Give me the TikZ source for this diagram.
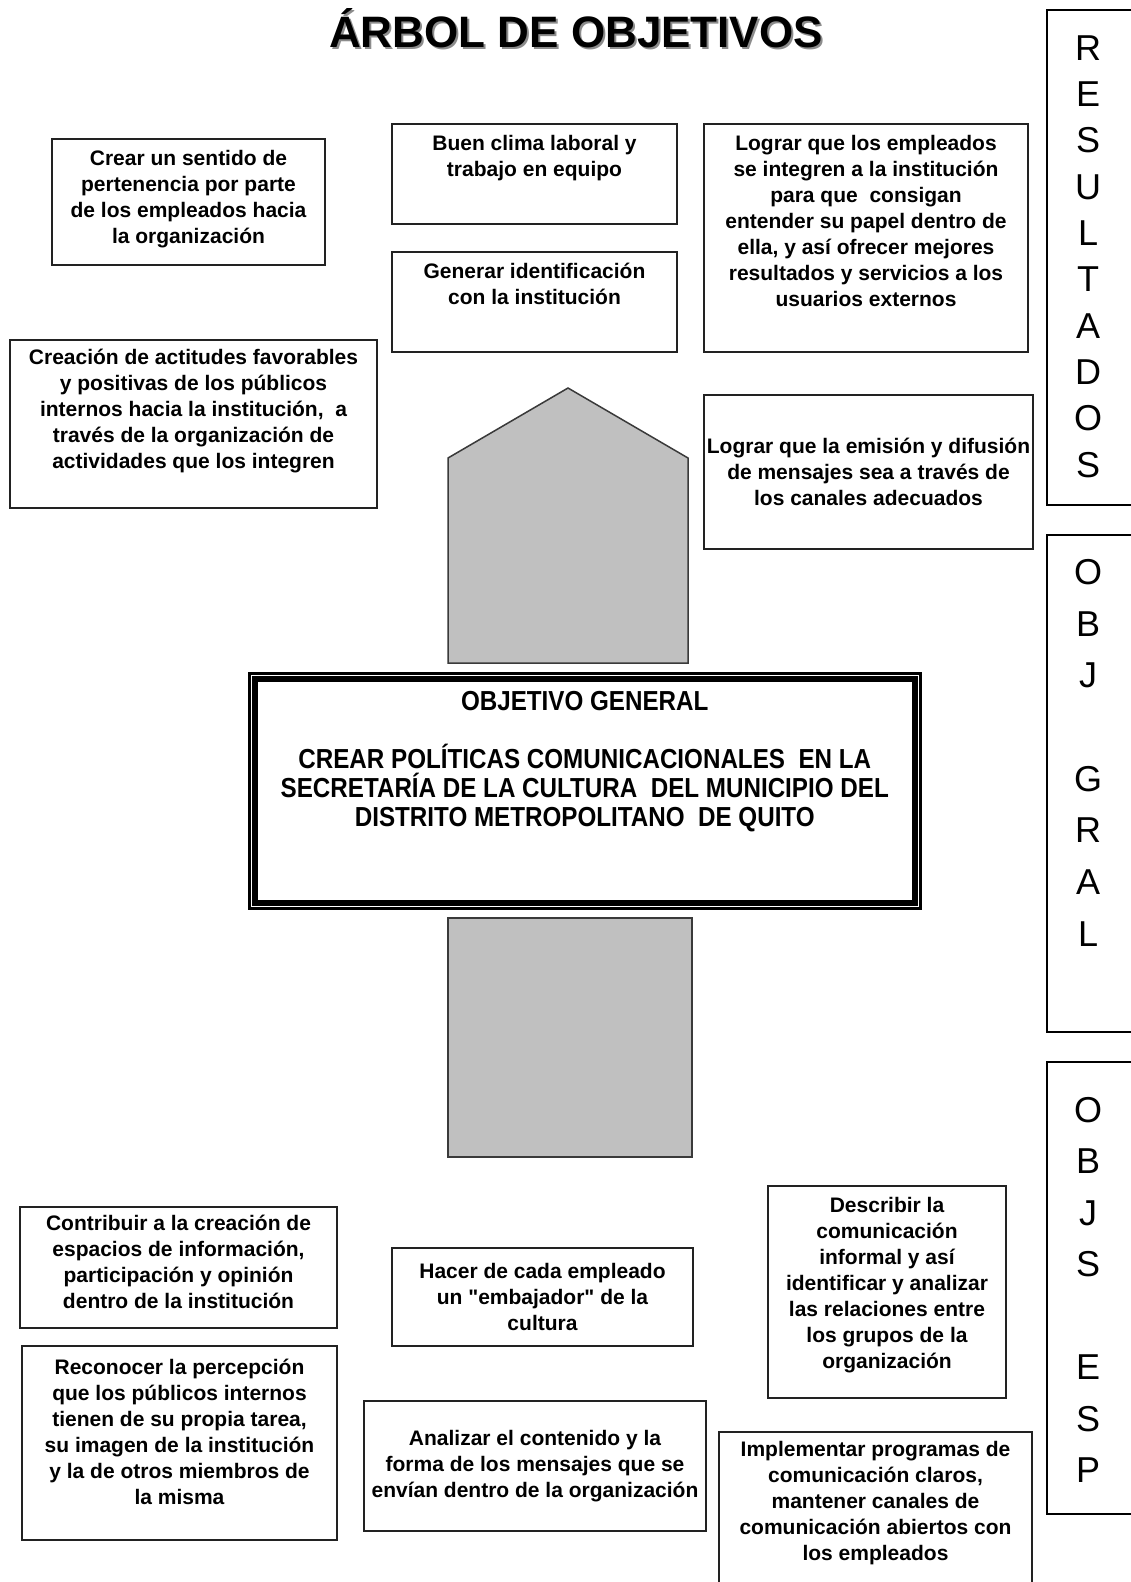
\documentclass[tikz,border=0pt]{standalone}
\usepackage{fontspec}
\setmainfont{Liberation Sans}
\newfontfamily\gralfont[FakeStretch=0.88]{Liberation Sans}
\usetikzlibrary{positioning}

\definecolor{boxline}{HTML}{222222}
\definecolor{shaft}{HTML}{C0C0C0}
\definecolor{shaftline}{HTML}{3A3A3A}

\begin{document}
\begin{tikzpicture}[x=1pt,y=-1pt,
node distance = 12pt,
objbox/.style  = {draw=boxline, line width=2pt, anchor=north west, inner sep=0pt,
                  align=center, font=\bfseries\fontsize{21}{26}\selectfont},
objtext/.style = {inner sep=0pt, align=center, font=\bfseries\fontsize{21}{26}\selectfont},
graltext/.style= {inner sep=0pt, align=center, font=\gralfont\bfseries\fontsize{27.5}{29}\selectfont},
shaftbody/.style = {fill=shaft, draw=shaftline, line width=1.5pt},
sideframe/.style = {draw=black, line width=2.5pt},
sideletter/.style= {inner sep=0pt, font=\fontsize{36}{36}\selectfont},
heading/.style   = {inner sep=0pt, anchor=base, font=\bfseries\fontsize{44}{48}\selectfont}
                        ]
\fill[white] (0,0) rectangle (1130,1582);
\useasboundingbox (0,0) rectangle (1130,1582);
%
\node[heading, text=black!45] (title-sh) at (578,49) {ÁRBOL DE OBJETIVOS};
\node[heading] (title) at (576,47) {ÁRBOL DE OBJETIVOS};
%
% resultados
\node[objbox, minimum width=273pt, minimum height=126pt] (sentido) at (51,138) {};
\node[objtext, below=of sentido.north] (sentido-t)
    {Crear un sentido de\\pertenencia por parte\\de los empleados hacia\\la organización};
\node[objbox, minimum width=285pt, minimum height=100pt] (clima) at (391,123) {};
\node[objtext, below=of clima.north] (clima-t)
    {Buen clima laboral y\\trabajo en equipo};
\node[objbox, minimum width=285pt, minimum height=100pt] (ident) at (391,251) {};
\node[objtext, below=of ident.north] (ident-t)
    {Generar identificación\\con la institución};
\node[objbox, minimum width=324pt, minimum height=228pt] (integran) at (703,123) {};
\node[objtext, below=of integran.north] (integran-t)
    {Lograr que los empleados\\se integren a la institución\\para que \ consigan\\entender su papel dentro de\\ella, y así ofrecer mejores\\resultados y servicios a los\\usuarios externos};
\node[objbox, minimum width=367pt, minimum height=168pt] (actitudes) at (9,339) {};
\node[objtext, below=10pt of actitudes.north] (actitudes-t)
    {Creación de actitudes favorables\\y positivas de los públicos\\internos hacia la institución, \ a\\través de la organización de\\actividades que los integren};
\node[objbox, minimum width=329pt, minimum height=154pt] (emision) at (703,394)
    {Lograr que la emisión y difusión\\de mensajes sea a través de\\los canales adecuados};
%
% tronco
\draw[shaftbody] (448,663) -- (448,458) -- (568,388) -- (688,458) -- (688,663) -- cycle;
\draw[shaftbody] (448,918) rectangle (692,1157);
%
% objetivo general
\node[draw=black, line width=2.5pt, anchor=north west, inner sep=0pt,
      minimum width=671pt, minimum height=235pt] (gral) at (248,672) {};
\draw[line width=6pt] ([shift={(6.5,6.5)}]gral.north west) rectangle ([shift={(-6.5,-6.5)}]gral.south east);
\node[graltext, below=19pt of gral.north] (gral-t)
    {OBJETIVO GENERAL\\[29pt]CREAR POLÍTICAS COMUNICACIONALES \ EN LA\\SECRETARÍA DE LA CULTURA \ DEL MUNICIPIO DEL\\DISTRITO METROPOLITANO \ DE QUITO};
%
% objetivos especificos
\node[objbox, minimum width=317pt, minimum height=121pt] (contribuir) at (19,1206) {};
\node[objtext, below=9pt of contribuir.north] (contribuir-t)
    {Contribuir a la creación de\\espacios de información,\\participación y opinión\\dentro de la institución};
\node[objbox, minimum width=301pt, minimum height=98pt] (embajador) at (391,1247)
    {Hacer de cada empleado\\un \textquotedbl embajador\textquotedbl{} de la\\cultura};
\node[objbox, minimum width=315pt, minimum height=194pt] (reconocer) at (21,1345) {};
\node[objtext, below=14pt of reconocer.north] (reconocer-t)
    {Reconocer la percepción\\que los públicos internos\\tienen de su propia tarea,\\su imagen de la institución\\y la de otros miembros de\\la misma};
\node[objbox, minimum width=342pt, minimum height=130pt] (analizar) at (363,1400)
    {Analizar el contenido y la\\forma de los mensajes que se\\envían dentro de la organización};
\node[objbox, minimum width=238pt, minimum height=212pt] (describir) at (767,1185) {};
\node[objtext, below=of describir.north] (describir-t)
    {Describir la\\comunicación\\informal y así\\identificar y analizar\\las relaciones entre\\los grupos de la\\organización};
\node[objbox, minimum width=313pt, minimum height=200pt] (implementar) at (718,1431) {};
\node[objtext, below=10pt of implementar.north] (implementar-t)
    {Implementar programas de\\comunicación claros,\\mantener canales de\\comunicación abiertos con\\los empleados};
%
% columna derecha
\draw[sideframe] (1140,10) -| (1047,505) -- (1140,505);
\draw[sideframe] (1140,535) -| (1047,1032) -- (1140,1032);
\draw[sideframe] (1140,1062) -| (1047,1514) -- (1140,1514);
\foreach \l [count=\i from 0] in {R,E,S,U,L,T,A,D,O,S}
    \node[sideletter] (res\i) at (1088,{48+46.3*\i}) {\l};
\foreach \l [count=\i from 0] in {O,B,J,{},G,R,A,L}
    \node[sideletter] (gral\i) at (1088,{572+51.7*\i}) {\l};
\foreach \l [count=\i from 0] in {O,B,J,S,{},E,S,P}
    \node[sideletter] (esp\i) at (1088,{1110+51.5*\i}) {\l};
\end{tikzpicture}
\end{document}
